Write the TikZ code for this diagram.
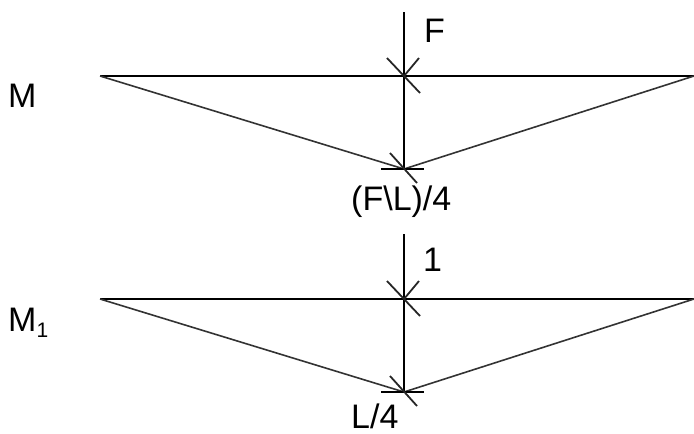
\documentclass[tikz,border=0pt]{standalone}
\usepackage{fontspec}
\setmainfont{Liberation Sans}
\tikzset{
  beam/.style={line width=2.8pt},
  diag/.style={line width=1.6pt,black!80},
  tick/.style={line width=2.4pt},
  slash/.style={line width=1.8pt,black!85},
  lbl/.style={inner sep=0pt,anchor=base west,font=\fontsize{34}{40}\selectfont}
}

\begin{document}
\begin{tikzpicture}[x=1pt,y=-1pt]
\useasboundingbox (0,0) rectangle (694,434);
% moment diagram for the load F
\coordinate (aL) at (100,76);
\coordinate (aR) at (694,76);
\coordinate (aC) at (404,76);
\coordinate (aT) at (404,12);
\coordinate (aB) at (404,169);
\draw[beam] (aL) -- (aR);
\draw[beam] (aT) -- (aB);
\draw[diag] (aL) -- (aB) -- (aR);
\draw[slash] (aC) ++(-17,-18) -- ++(33,35);
\draw[slash] (aC) ++(15,-18) -- (aC);
\draw[tick] (aB) ++(-23,0) -- ++(43,0);
\draw[slash] (aB) ++(-14,-16) -- ++(27,30);
\node[lbl] (M) at (8,107) {M};
\node[lbl] (F) at (424,42) {F};
\node[lbl] (Mmax) at (351,210) {(F\textbackslash L)/4};
% unit load
\coordinate (bL) at (100,299);
\coordinate (bR) at (694,299);
\coordinate (bC) at (404,299);
\coordinate (bT) at (404,234);
\coordinate (bB) at (404,392);
\draw[beam] (bL) -- (bR);
\draw[beam] (bT) -- (bB);
\draw[diag] (bL) -- (bB) -- (bR);
\draw[slash] (bC) ++(-17,-18) -- ++(33,35);
\draw[slash] (bC) ++(15,-18) -- (bC);
\draw[tick] (bB) ++(-23,0) -- ++(43,0);
\draw[slash] (bB) ++(-14,-16) -- ++(27,30);
\node[lbl] (M1) at (8,331) {M\raisebox{-6pt}{\fontsize{21}{24}\selectfont 1}};
\node[lbl] (one) at (423,271) {1};
\node[lbl] (Mone) at (351,428) {L/4};
\end{tikzpicture}
\end{document}
